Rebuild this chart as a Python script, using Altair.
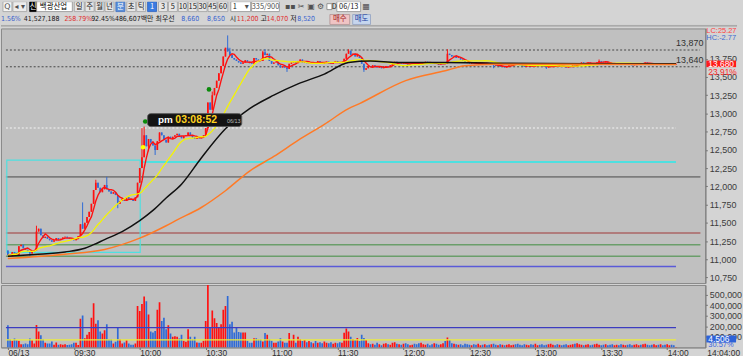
import json
import altair as alt
import pandas as pd

# ------------------------------------------------------------------ data (1-minute bars, 09:00 .. 14:04)
OPEN0 = 11120
CLOSE = [
    # 09:00
    11060, 11040, 11100, 11080, 11060, 11180, 11200, 11150, 11130, 11110, 11080, 11100, 11120,
    # 09:13
    11380, 11420, 11330, 11290, 11310, 11280, 11260, 11240, 11260, 11290, 11270, 11280, 11300, 11310, 11290, 11280,
    11270, 11260, 11290,
    # 09:32
    11320, 11480, 11420, 11500, 11580, 11650, 11760, 11950, 12050, 11980, 11920, 11960, 12020, 11960, 11930, 11900,
    11920, 11880, 11760,
    # 09:51
    11800, 11830, 11800, 11850, 11830, 11820, 11800, 11850, 12050, 12250, 12400, 12700, 12550, 12650,
    # 10:05
    12600, 12560, 12500, 12620, 12740, 12700, 12640, 12600, 12680, 12650, 12680, 12700, 12720, 12690, 12660, 12690,
    12700, 12740, 12700, 12670, 12650, 12670, 12660, 12680, 12700, 12800,
    # 10:31
    13150, 13050, 13250, 13350, 13450, 13550, 13650, 13780, 13900, 13850, 13800, 13760, 13740, 13720, 13700, 13680,
    13700, 13730, 13710, 13690, 13680,
    # 10:52
    13760, 13740, 13730, 13720, 13840, 13800, 13820, 13720, 13680, 13700, 13710, 13660, 13630, 13650, 13630, 13610,
    13680, 13700, 13720, 13690,
    # 11:12
    13720, 13740, 13700, 13720, 13690, 13700,
    13680, 13700, 13690, 13720, 13700, 13680, 13700, 13710, 13690, 13680, 13700, 13720, 13700, 13690, 13700,
    13750, 13820, 13860, 13800,
    13820, 13780, 13800, 13760,
    13680, 13600, 13620,
    13650, 13640, 13660, 13650, 13630, 13640, 13620, 13630, 13650, 13640, 13660,
    13700, 13710, 13690, 13700, 13680,
    13690, 13680, 13670, 13680, 13700, 13690, 13680, 13670, 13690, 13700,
    13710, 13700, 13690, 13680, 13690, 13680, 13670, 13680, 13690, 13680,
    13820, 13800,
    13780, 13790, 13760, 13770, 13740, 13720,
    13700, 13690, 13680, 13700, 13690, 13680, 13690, 13700, 13680, 13690, 13680,
    13670, 13680, 13660, 13650, 13660, 13640, 13650, 13630, 13640, 13660,
    13680, 13690, 13680,
    13670, 13660, 13650, 13640, 13650, 13660, 13650, 13640, 13660, 13670,
    13660, 13650, 13640, 13630, 13640, 13650, 13660, 13650, 13640, 13660,
    13650, 13640, 13630, 13640, 13650, 13660, 13650, 13670,
    13690, 13700, 13680, 13690, 13700, 13690, 13680, 13690,
    13700, 13720, 13710, 13700, 13710, 13690,
    13680, 13670, 13680, 13690, 13680, 13670, 13680, 13690, 13680, 13670,
    13660, 13670, 13680, 13690, 13680, 13690, 13700, 13690, 13680, 13670,
    13680, 13690, 13680, 13690, 13680, 13670, 13680, 13690, 13680, 13670,
    13680,
]
WICK_HIGH = {13: 11460, 34: 11780, 40: 12090, 45: 12130, 61: 12800, 62: 12820, 93: 13300,
             100: 14070, 101: 13900, 116: 13860, 117: 13880, 155: 13880, 200: 13880, 269: 13740}
WICK_LOW = {10: 11040, 50: 11700, 64: 12480, 67: 12430, 127: 13570, 162: 13570,
            221: 13620, 245: 13610}
VOLUME_K = [
    209, 78, 62, 84, 69, 62, 31, 31, 37, 31, 84, 69, 37,
    212, 150, 115, 78, 44, 37, 37, 56, 25, 47, 25, 31, 25, 31, 22, 25, 31, 44, 44,
    22, 272, 303, 87, 119, 147, 281, 419, 225, 256, 150, 131, 162, 219, 78, 78, 37, 53, 194,
    78, 37, 47, 69, 37, 25, 25, 37, 391, 344, 412, 481, 437, 312,
    150, 141, 156, 356, 428, 250, 281, 172, 209, 131, 100, 106, 100, 84, 119, 62, 53, 172, 100, 78,
    100, 47, 44, 44, 62, 250,
    600, 187, 350, 275, 231, 184, 219, 356, 391, 487, 219, 244, 141, 194, 147, 141, 141, 141, 62, 44, 44,
    87, 87, 78, 78, 56, 137, 119, 78, 62, 44, 44, 56, 87, 56, 44, 44, 137, 69, 119, 44,
    100, 80, 60, 70, 50, 60, 50, 40, 60, 45, 50, 40, 55, 45, 40, 50, 35, 45, 40, 50, 45,
    140, 180, 150, 100, 80, 70, 90, 60, 120, 90, 70,
    40, 30, 35, 25, 45, 30, 20, 35, 40, 30, 25, 45, 50, 35, 30, 25, 35, 40, 30, 20,
    25, 35, 30, 40, 45, 30, 25, 35, 20, 30, 40, 35, 25, 30, 40, 60,
    95, 70,
    40, 35, 30, 25, 30, 20, 35, 30, 25, 20,
    30, 25, 35, 20, 25, 30, 20, 25, 30, 35,
    25, 20, 30, 25, 20, 25, 30, 20, 25, 30,
    35, 25, 20, 30, 25, 20, 30, 25, 35, 20,
    25, 30, 20, 25, 30, 35, 25, 20, 30, 25,
    20, 25, 30, 20, 25, 30, 35, 40, 30, 25,
    20, 25, 30, 20, 25, 30, 35, 25, 20, 25,
    30, 20, 25, 30, 20, 25, 20, 30, 25, 20,
    25, 30, 20, 25, 30, 20, 25, 30, 35, 25,
    20, 25, 30, 20, 25, 30, 20, 25, 30, 20,
    25, 20, 4.506,
]
# long moving averages
BLACK_M = [0, 12, 26, 35, 39, 44, 52, 60, 66, 72, 79, 88, 99, 110, 121, 132, 144, 155, 165, 177, 199, 221, 266, 304]
BLACK_P = [11040, 11065, 11100, 11150, 11200, 11270, 11380, 11530, 11670, 11840, 12030, 12390, 12790, 13065,
           13250, 13405, 13540, 13700, 13720, 13700, 13700, 13690, 13680, 13680]
ORANGE_M = [0, 26, 44, 60, 72, 77, 88, 99, 110, 121, 132, 144, 155, 160, 181, 199, 208, 221, 304]
ORANGE_P = [11010, 11070, 11135, 11290, 11460, 11540, 11710, 11940, 12210, 12410, 12630, 12850, 13065, 13135,
            13450, 13586, 13654, 13675, 13670]
# horizontal levels
DASH_LEVELS = [13870, 13640]
WHITE_LEVEL = 12800
CYAN_LEVEL = 12335
CYAN_BOX = [-0.5, 60.2, 11095, 12360]
GRAY_LEVEL = 12130
BROWN_LEVEL = 11360
GREEN_LEVELS = [11200, 11040]
BLUE_LEVEL = 10900
VOL_NAVY_LEVEL = 188000
VOL_YELLOW_LEVEL = 72000
# markers
MARK_M = [62.5, 91.5, 61.5]
MARK_P = [12890, 13330, 12536]
MARK_C = ["#0a8a0a", "#0a8a0a", "#ffff00"]
# texts
TIME_LABELS = ["06/13", "09:30", "10:00", "10:30", "11:00", "11:30", "12:00", "12:30", "13:00", "13:30", "14:00"]
PRICE_TICKS = [10750, 11000, 11250, 11500, 11750, 12000, 12250, 12500, 12750, 13000, 13250, 13500, 13750]
VOL_TICKS = [100000, 200000, 300000, 400000, 500000]
LAST_PCT = "23.91%"
LAST_VOL_TEXT = "4,506"
LAST_VOL_PCT = "30.57%"
LC_TEXT = "LC:25.27"
HC_TEXT = "HC:-2.77"
END_TIME = "14:04:00"
TIP = ["pm", "03:08:52", "06/13"]

# ------------------------------------------------------------------ layout constants
W = 711
H_HEAD = 25
H_PRICE = 257
H_VOL = 63
X_DOMAIN = [-2 / 2.25, (W - 2) / 2.25]
P_DOMAIN = [10674, 14166]
V_DOMAIN = [0, 590625]
UP = "#ff1010"
DOWN = "#2f6ad6"
NUMF = "Liberation Sans"
NARROW = "Liberation Sans Narrow, DejaVu Sans Condensed, Liberation Sans, Noto Sans CJK KR"
KRF = "Noto Sans CJK KR"

# ------------------------------------------------------------------ tables
n = min(len(CLOSE), len(VOLUME_K))
rows = []
prev = OPEN0
for i in range(n):
    o, c = prev, CLOSE[i]
    hi = max(o, c, WICK_HIGH.get(i, c))
    lo = min(o, c, WICK_LOW.get(i, c))
    rows.append(dict(m=i, o=o, c=c, hi=hi, lo=lo, v=VOLUME_K[i] * 1000, d="up" if c >= o else "down"))
    prev = c
cdf = pd.DataFrame(rows)
LAST_M = n - 1

xs = alt.Scale(domain=X_DOMAIN, nice=False, zero=False)
ps = alt.Scale(domain=P_DOMAIN, nice=False, zero=False)
vs = alt.Scale(domain=V_DOMAIN, nice=False, zero=False)
dir_color = alt.Color("d:N", scale=alt.Scale(domain=["up", "down"], range=[UP, DOWN]), legend=None)

price_axis = alt.Axis(orient="right", values=PRICE_TICKS, format=",d", title=None, grid=False,
                      labelFont=NUMF, labelFontSize=9, labelColor="#3c3c3c", tickSize=2,
                      tickColor="#707070", domainColor="#7a7a7a", labelPadding=2,
                      labelFlush=False, labelOverlap=False)
vol_axis = alt.Axis(orient="right", values=VOL_TICKS, format=",d", title=None, grid=False,
                    labelFont=NUMF, labelFontSize=9, labelColor="#3c3c3c", tickSize=2,
                    tickColor="#707070", domainColor="#7a7a7a", labelPadding=2,
                    labelFlush=False, labelOverlap=False)
time_axis = alt.Axis(values=list(range(0, 301, 30)), labelExpr=f"{json.dumps(TIME_LABELS)}[round(datum.value/30)]",
                     labelAlign="left", labelBaseline="middle", labelPadding=3, tickSize=2, labelFont=NUMF,
                     labelFontSize=8.5, labelColor="#303030", domainColor="#8a8a8a", tickColor="#606060",
                     grid=False, title=None, labelFlush=False, labelOverlap=False)


def PX(f):
    return alt.X(f, type="quantitative", scale=xs, axis=None)


def VX(f):
    return alt.X(f, type="quantitative", scale=xs, axis=time_axis)


def PY(f):
    return alt.Y(f, type="quantitative", scale=ps, axis=price_axis)


def VY(f):
    return alt.Y(f, type="quantitative", scale=vs, axis=vol_axis)


def hline(price, color, width=1.0, dash=None, start=None, end=None, yenc=PY, xenc=PX):
    df = pd.DataFrame({"p": [price], "a": [X_DOMAIN[0] if start is None else start],
                       "b": [X_DOMAIN[1] if end is None else end]})
    kw = dict(color=color, strokeWidth=width, clip=True)
    if dash:
        kw["strokeDash"] = dash
    return alt.Chart(df).mark_rule(**kw).encode(x=xenc("a"), x2=alt.X2("b"), y=yenc("p"))


# ------------------------------------------------------------------ price panel
levels = [
    hline(BLUE_LEVEL, "#5a5ad8", 1.5, end=LAST_M),
    hline(GREEN_LEVELS[0], "#6a9e6a", 1.5),
    hline(GREEN_LEVELS[1], "#6a9e6a", 1.5),
    hline(BROWN_LEVEL, "#b07c7c", 2),
    hline(GRAY_LEVEL, "#7c7c7c", 2),
    hline(CYAN_LEVEL, "#4ee0e0", 2, start=CYAN_BOX[1], end=LAST_M),
    hline(WHITE_LEVEL, "#f4f4f4", 1.2, dash=[2, 2], start=X_DOMAIN[0], end=LAST_M),
    hline(DASH_LEVELS[0], "#454545", 1, dash=[2, 2], end=(W - 2.5) / 2.25),
    hline(DASH_LEVELS[1], "#454545", 1, dash=[2, 2], end=(W - 2.5) / 2.25),
]
box = alt.Chart(pd.DataFrame({"a": [CYAN_BOX[0]], "b": [CYAN_BOX[1]], "lo": [CYAN_BOX[2]], "hi": [CYAN_BOX[3]]})) \
    .mark_rect(fillOpacity=0, stroke="#4ee0e0", strokeWidth=1.2, clip=True) \
    .encode(x=PX("a"), x2=alt.X2("b"), y=PY("lo"), y2=alt.Y2("hi"))

wick = alt.Chart(cdf).mark_rule(strokeWidth=1, clip=True).encode(
    x=PX("m"), y=PY("lo"), y2=alt.Y2("hi"), color=dir_color)
body = alt.Chart(cdf).mark_bar(size=1.7, clip=True).encode(
    x=PX("m"), y=PY("o"), y2=alt.Y2("c"), color=dir_color)
ma5 = alt.Chart(cdf).transform_window(ma="mean(c)", frame=[-4, 0], sort=[alt.SortField("m")]) \
    .mark_line(color="#ff1010", strokeWidth=1.4, clip=True).encode(x=PX("m"), y=PY("ma:Q"))
ma20 = alt.Chart(cdf).transform_window(ma="mean(c)", frame=[-19, 0], sort=[alt.SortField("m")]) \
    .mark_line(color="#f4f400", strokeWidth=1.3, clip=True).encode(x=PX("m"), y=PY("ma:Q"))
black = alt.Chart(pd.DataFrame({"m": BLACK_M, "p": BLACK_P})) \
    .mark_line(color="#101010", strokeWidth=1.5, interpolate="monotone", clip=True).encode(x=PX("m"), y=PY("p"))
orange = alt.Chart(pd.DataFrame({"m": ORANGE_M, "p": ORANGE_P})) \
    .mark_line(color="#ff7a26", strokeWidth=1.5, interpolate="monotone", clip=True).encode(x=PX("m"), y=PY("p"))
marks = alt.Chart(pd.DataFrame({"m": MARK_M, "p": MARK_P, "col": MARK_C})) \
    .mark_circle(size=22, opacity=1).encode(x=PX("m"), y=PY("p"), color=alt.Color("col:N", scale=None))
lvl_lbl = alt.Chart(pd.DataFrame({"p": DASH_LEVELS, "t": [f"{v:,}" for v in DASH_LEVELS]})) \
    .mark_text(align="right", baseline="bottom", dy=-2, fontSize=9, font=NUMF, color="#303030") \
    .encode(x=alt.value(W - 2), y=PY("p"), text="t:N")

tip_box = alt.Chart(pd.DataFrame({"k": [0]})).mark_rect(fill="#141414", stroke="#5a5a5a", cornerRadius=3) \
    .encode(x=alt.value(148), x2=alt.value(243), y=alt.value(86), y2=alt.value(99))
tip_t1 = alt.Chart(pd.DataFrame({"t": [TIP[0]]})).mark_text(fontSize=10, font=NUMF, fontWeight="bold", color="#ffffff") \
    .encode(x=alt.value(166), y=alt.value(92.5), text="t:N")
tip_t2 = alt.Chart(pd.DataFrame({"t": [TIP[1]]})).mark_text(fontSize=10.5, font=NUMF, fontWeight="bold", color="#ffd21e") \
    .encode(x=alt.value(197), y=alt.value(92.5), text="t:N")
tip_t3 = alt.Chart(pd.DataFrame({"t": [TIP[2]]})).mark_text(fontSize=5.5, font=NUMF, color="#bbbbbb") \
    .encode(x=alt.value(235), y=alt.value(93), text="t:N")

last = cdf.tail(1)
last_box = alt.Chart(last).transform_calculate(b1="datum.c - 45", b2="datum.c + 45") \
    .mark_rect(color="#ff1a1a").encode(x=alt.value(W + 1), x2=alt.value(742), y=PY("b1:Q"), y2=alt.Y2("b2:Q"))
last_txt = alt.Chart(last).transform_calculate(t="format(datum.c, ',d')") \
    .mark_text(align="left", baseline="middle", fontSize=8.5, font=NUMF, color="#ffffff") \
    .encode(x=alt.value(W + 3), y=PY("c"), text="t:N")
last_pct = alt.Chart(pd.DataFrame({"c": [last["c"].iloc[0]], "t": [LAST_PCT]})) \
    .mark_text(align="left", baseline="middle", dy=8, fontSize=8.5, font=NUMF, color="#ff2a2a") \
    .encode(x=alt.value(W + 3), y=PY("c"), text="t:N")
lc = alt.Chart(pd.DataFrame({"t": [LC_TEXT]})).mark_text(align="left", baseline="middle", fontSize=7.5, font=NUMF, color="#ff4040") \
    .encode(x=alt.value(W + 1), y=alt.value(3), text="t:N")
hc = alt.Chart(pd.DataFrame({"t": [HC_TEXT]})).mark_text(align="left", baseline="middle", fontSize=7.5, font=NUMF, color="#3a6ad0") \
    .encode(x=alt.value(W + 1), y=alt.value(10), text="t:N")

price = alt.layer(*levels, box, wick, body, ma5, ma20, black, orange, marks, lvl_lbl,
                  tip_box, tip_t1, tip_t2, tip_t3, last_box, last_txt, last_pct, lc, hc) \
    .properties(width=W, height=H_PRICE, view=alt.ViewBackground(fill="#c0c0c0", stroke="#8a8a8a"))

# ------------------------------------------------------------------ volume panel
vbar = alt.Chart(cdf).mark_bar(size=1.7, clip=True).encode(x=VX("m"), y=VY("v"), color=dir_color)
vlev = [hline(VOL_NAVY_LEVEL, "#3c3cc0", 1.2, end=LAST_M, yenc=VY, xenc=VX),
        hline(VOL_YELLOW_LEVEL, "#ecec3c", 1.2, end=LAST_M, yenc=VY, xenc=VX)]
vbox = alt.Chart(pd.DataFrame({"k": [0]})).mark_rect(color="#2d62d8") \
    .encode(x=alt.value(W + 1), x2=alt.value(742), y=alt.value(51), y2=alt.value(58))
vtxt = alt.Chart(pd.DataFrame({"t": [LAST_VOL_TEXT]})).mark_text(align="left", baseline="middle", fontSize=8.5, font=NUMF, color="#ffffff") \
    .encode(x=alt.value(W + 3), y=alt.value(54.5), text="t:N")
vpct = alt.Chart(pd.DataFrame({"t": [LAST_VOL_PCT]})).mark_text(align="left", baseline="middle", fontSize=7.5, font=NUMF, color="#3a64e0") \
    .encode(x=alt.value(W + 3), y=alt.value(61), text="t:N")
endt = alt.Chart(pd.DataFrame({"t": [END_TIME]})).mark_text(align="left", baseline="middle", fontSize=8.5, font=NUMF, color="#303030") \
    .encode(x=alt.value(W + 2), y=alt.value(H_VOL + 6), text="t:N")
volume = alt.layer(vbar, *vlev, vbox, vtxt, vpct, endt) \
    .properties(width=W, height=H_VOL, view=alt.ViewBackground(fill="#c0c0c0", stroke="#8a8a8a"))

# ------------------------------------------------------------------ header (toolbar + info row)
BTN = "#e6e6e6"
HEAD_BOXES = [  # x0, x1, y0, y1, fill, stroke
    (2, 11, 0, 10, "#f4f4f4", "#a0a0a0"), (12, 26, 0, 10, "#ececec", "#a0a0a0"),
    (29, 36, 0, 10, "#000000", "#000000"), (36, 72, 0, 10, "#ffffff", "#909090"),
    (74, 84, 0, 10, BTN, "#a0a0a0"), (85, 94, 0, 10, BTN, "#a0a0a0"), (95, 104, 0, 10, BTN, "#a0a0a0"),
    (105, 114, 0, 10, BTN, "#a0a0a0"), (116, 125, 0, 10, "#5b8fd9", "#4070c0"), (127, 136, 0, 10, BTN, "#a0a0a0"),
    (137, 146, 0, 10, BTN, "#a0a0a0"), (148, 157, 0, 10, "#3a7be0", "#2a60c0"), (159, 168, 0, 10, BTN, "#a0a0a0"),
    (169, 178, 0, 10, BTN, "#a0a0a0"), (179, 188, 0, 10, BTN, "#a0a0a0"), (189, 198, 0, 10, BTN, "#a0a0a0"),
    (199, 208, 0, 10, BTN, "#a0a0a0"), (209, 218, 0, 10, BTN, "#a0a0a0"), (219, 229, 0, 10, BTN, "#a0a0a0"),
    (232, 252, 0, 10, "#ffffff", "#909090"), (253, 281, 0, 10, "#ffffff", "#909090"),
    (329, 334, 2, 8, "#ffffff", "#808080"), (339, 363, 0, 10, "#ffffff", "#909090"),
    (332, 352, 13, 23, "#f0c4c4", "#b09090"), (355, 373, 13, 23, "#c6d6ee", "#8fa0c0"),
    (0, 743, 24, 25, "#a4a4a4", "#a4a4a4"),
]
ROW1_TEXT = [("신", 32.5, "#ffffff"), ("백광산업", 53, "#000000"), ("일", 79, "#222222"), ("주", 89.5, "#222222"),
             ("월", 99.5, "#222222"), ("년", 109.5, "#222222"), ("분", 120.5, "#ffffff"), ("초", 131.5, "#222222"),
             ("틱", 141.5, "#222222"), ("1", 152.5, "#ffffff"), ("3", 163.5, "#222222"), ("5", 173.5, "#222222"),
             ("10", 183.5, "#222222"), ("15", 193.5, "#222222"), ("30", 203.5, "#222222"), ("45", 213.5, "#222222"),
             ("60", 224, "#222222"), ("1", 236, "#222222"), ("335/900", 267, "#505050"), ("D", 336.5, "#222222"),
             ("06/13", 351, "#222222"), ("매수", 342, "#a02020"), ("매도", 364, "#2040a0")]
ROW1_Y = [5.5] * 21 + [18, 18]
GLYPHS = [("Q", 6.5), ("◂ ▾", 19), ("▾", 248), ("▪▪", 292), ("✂", 303), ("▣", 313), ("⚙", 322.5), ("▦", 368.5)]
ROW2_TEXT = [("21.56%", -4, "#3a5fcd"), ("41,527,188", 23, "#202020"), ("258.79%", 64, "#e03030"),
             ("92.45%", 91, "#202020"), ("486,607백만", 115, "#202020"), ("최우선", 156, "#202020"),
             ("8,660", 182, "#3a64d0"), ("8,650", 208, "#3a64d0"), ("시", 231, "#202020"), ("11,200", 238, "#e03030"),
             ("고", 262, "#202020"), ("14,070", 268, "#e03030"), ("저", 292, "#202020"), ("8,520", 299, "#3a64d0")]

HX = alt.Scale(domain=[0, 743], range=[0, 743], nice=False, zero=False)
HY = alt.Scale(domain=[0, 25], range=[0, 25], nice=False, zero=False)
hb = pd.DataFrame(HEAD_BOXES, columns=["x0", "x1", "y0", "y1", "f", "s"])
h_rect = alt.Chart(hb).mark_rect(strokeWidth=0.8, clip=True).encode(
    x=alt.X("x0:Q", scale=HX, axis=None), x2="x1:Q", y=alt.Y("y0:Q", scale=HY, axis=None), y2="y1:Q",
    fill=alt.Fill("f:N", scale=None), stroke=alt.Stroke("s:N", scale=None))
r1 = pd.DataFrame(ROW1_TEXT, columns=["t", "x", "col"])
r1["y"] = ROW1_Y
h_t1 = alt.Chart(r1).mark_text(align="center", baseline="middle", fontSize=7.5, font=KRF, clip=True).encode(
    x=alt.X("x:Q", scale=HX, axis=None), y=alt.Y("y:Q", scale=HY, axis=None), text="t:N",
    color=alt.Color("col:N", scale=None))
g = pd.DataFrame(GLYPHS, columns=["t", "x"])
g["y"] = 5.5
h_g = alt.Chart(g).mark_text(align="center", baseline="middle", fontSize=8, font="DejaVu Sans", color="#505050", clip=True).encode(
    x=alt.X("x:Q", scale=HX, axis=None), y=alt.Y("y:Q", scale=HY, axis=None), text="t:N")
r2 = pd.DataFrame(ROW2_TEXT, columns=["t", "x", "col"])
r2["y"] = 18
h_t2 = alt.Chart(r2).mark_text(align="left", baseline="middle", fontSize=7, font=NARROW, clip=True).encode(
    x=alt.X("x:Q", scale=HX, axis=None), y=alt.Y("y:Q", scale=HY, axis=None), text="t:N",
    color=alt.Color("col:N", scale=None))
header = alt.layer(h_rect, h_t1, h_g, h_t2).properties(
    width=743, height=H_HEAD, view=alt.ViewBackground(fill="#d4d4d4", strokeOpacity=0))

chart = alt.vconcat(header, price, volume, spacing=0).properties(padding=0, background="#d4d4d4")
chart.save("out.html", embed_options={"renderer": "svg", "actions": False})
